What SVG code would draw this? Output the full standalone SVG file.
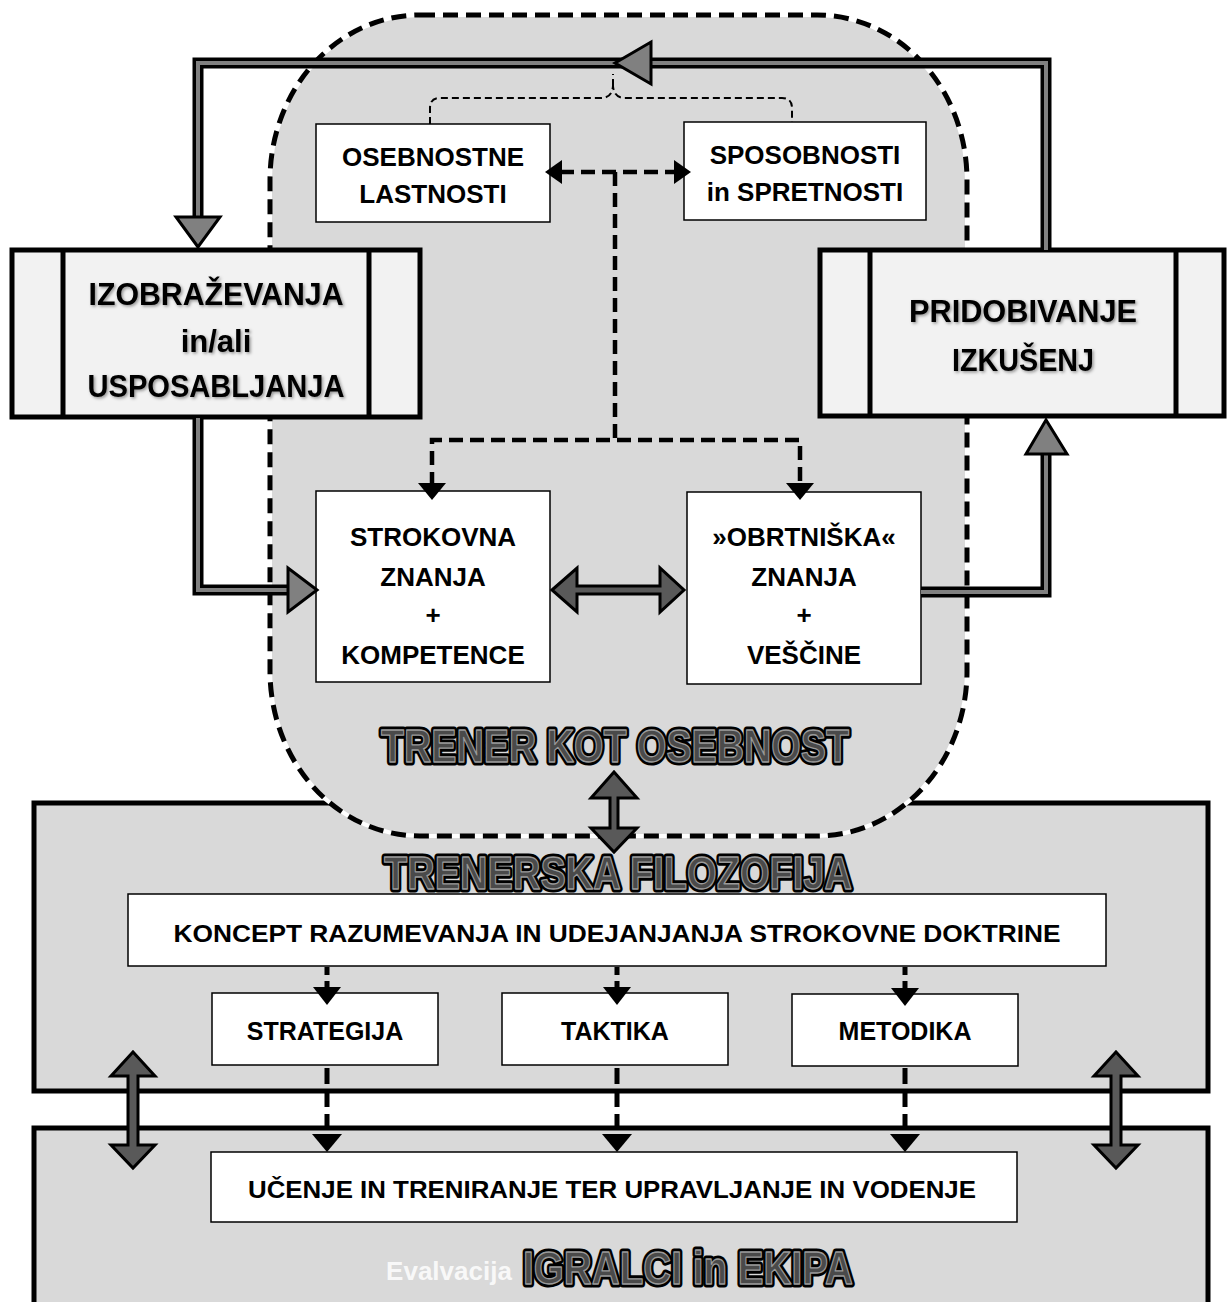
<svg xmlns="http://www.w3.org/2000/svg" width="1227" height="1302" viewBox="0 0 1227 1302">
<defs>
<style>
.t{font-family:"Liberation Sans",Arial,sans-serif;font-weight:bold;text-anchor:middle;fill:#000}
.wbox{fill:#fff;stroke:#000;stroke-width:1.5}
.sbox{fill:#f2f2f2;stroke:#000;stroke-width:5}
.panel{fill:#d9d9d9;stroke:#000;stroke-width:5}
.o1{font-family:"Liberation Sans",Arial,sans-serif;font-weight:bold;text-anchor:middle;fill:#000;stroke:#000;stroke-width:7;stroke-linejoin:round}
.o2{font-family:"Liberation Sans",Arial,sans-serif;font-weight:bold;text-anchor:middle;fill:#4a4a4a;stroke:#9a9a9a;stroke-width:1.3;stroke-linejoin:round}
.thko{fill:none;stroke:#000;stroke-width:11;stroke-linejoin:miter}
.thki{fill:none;stroke:#808080;stroke-width:4;stroke-linejoin:miter}
.ghead{fill:#808080;stroke:#000;stroke-width:3;stroke-linejoin:miter}
.dbl{fill:#595959;stroke:#000;stroke-width:3;stroke-linejoin:miter}
.dash{fill:none;stroke:#000;stroke-width:4.5;stroke-dasharray:14 7}
.dash2{fill:none;stroke:#000;stroke-width:5;stroke-dasharray:8 6}
.dash3{fill:none;stroke:#000;stroke-width:5;stroke-dasharray:16 7}
.thin{fill:none;stroke:#000;stroke-width:2;stroke-dasharray:7 4}
.bh{fill:#000}
</style>
<filter id="sh" x="-10%" y="-30%" width="120%" height="160%">
<feDropShadow dx="1.5" dy="1.5" stdDeviation="1.6" flood-color="#000" flood-opacity="0.4"/>
</filter>
</defs>
<rect width="1227" height="1302" fill="#fff"/>

<g id="panel-filozofija">
<rect class="panel" x="34" y="803" width="1174" height="288"/>
</g>
<g id="panel-igralci">
<rect class="panel" x="34" y="1128" width="1174" height="190"/>
</g>

<g id="trener-oval">
<path d="M420,15 H817 A150,165 0 0 1 967,180 V671 A150,165 0 0 1 817,836 H420 A150,165 0 0 1 270,671 V180 A150,165 0 0 1 420,15 Z" fill="#d9d9d9" stroke="#fff" stroke-width="4"/>
<path d="M420,15 H817 A150,165 0 0 1 967,180 V671 A150,165 0 0 1 817,836 H420 A150,165 0 0 1 270,671 V180 A150,165 0 0 1 420,15 Z" fill="none" stroke="#000" stroke-width="5" stroke-dasharray="15 8"/>
</g>

<g id="izobrazevanja">
<rect class="sbox" x="12" y="250" width="408" height="167"/>
<line x1="63" y1="250" x2="63" y2="417" stroke="#000" stroke-width="5"/>
<line x1="369" y1="250" x2="369" y2="417" stroke="#000" stroke-width="5"/>
<g filter="url(#sh)">
<text class="t" x="216" y="305" font-size="31" textLength="255" lengthAdjust="spacingAndGlyphs">IZOBRAŽEVANJA</text>
<text class="t" x="216" y="352" font-size="31">in/ali</text>
<text class="t" x="216" y="397" font-size="31" textLength="257" lengthAdjust="spacingAndGlyphs">USPOSABLJANJA</text>
</g>
</g>

<g id="pridobivanje">
<rect class="sbox" x="820" y="250" width="404" height="166"/>
<line x1="870" y1="250" x2="870" y2="416" stroke="#000" stroke-width="5"/>
<line x1="1176" y1="250" x2="1176" y2="416" stroke="#000" stroke-width="5"/>
<g filter="url(#sh)">
<text class="t" x="1023" y="322" font-size="31" textLength="228" lengthAdjust="spacingAndGlyphs">PRIDOBIVANJE</text>
<text class="t" x="1023" y="371" font-size="31" textLength="142" lengthAdjust="spacingAndGlyphs">IZKUŠENJ</text>
</g>
</g>

<g id="osebnostne">
<rect class="wbox" x="316" y="124" width="234" height="98"/>
<text class="t" x="433" y="166" font-size="26">OSEBNOSTNE</text>
<text class="t" x="433" y="203" font-size="26">LASTNOSTI</text>
</g>
<g id="sposobnosti">
<rect class="wbox" x="684" y="122" width="242" height="98"/>
<text class="t" x="805" y="164" font-size="26">SPOSOBNOSTI</text>
<text class="t" x="805" y="201" font-size="26">in SPRETNOSTI</text>
</g>
<g id="strokovna">
<rect class="wbox" x="316" y="491" width="234" height="191"/>
<text class="t" x="433" y="546" font-size="26">STROKOVNA</text>
<text class="t" x="433" y="586" font-size="26">ZNANJA</text>
<text class="t" x="433" y="624" font-size="26">+</text>
<text class="t" x="433" y="664" font-size="26">KOMPETENCE</text>
</g>
<g id="obrtniska">
<rect class="wbox" x="687" y="492" width="234" height="192"/>
<text class="t" x="804" y="546" font-size="26">»OBRTNIŠKA«</text>
<text class="t" x="804" y="586" font-size="26">ZNANJA</text>
<text class="t" x="804" y="624" font-size="26">+</text>
<text class="t" x="804" y="664" font-size="26">VEŠČINE</text>
</g>

<g id="label-trener">
<text class="o1" x="615" y="762" font-size="46" textLength="468" lengthAdjust="spacingAndGlyphs">TRENER KOT OSEBNOST</text>
<text class="o2" x="615" y="762" font-size="46" textLength="468" lengthAdjust="spacingAndGlyphs">TRENER KOT OSEBNOST</text>
</g>
<g id="label-filozofija">
<text class="o1" x="618" y="889" font-size="46" textLength="468" lengthAdjust="spacingAndGlyphs">TRENERSKA FILOZOFIJA</text>
<text class="o2" x="618" y="889" font-size="46" textLength="468" lengthAdjust="spacingAndGlyphs">TRENERSKA FILOZOFIJA</text>
</g>

<g id="koncept">
<rect class="wbox" x="128" y="894" width="978" height="72"/>
<text class="t" x="617" y="942" font-size="24" textLength="887" lengthAdjust="spacingAndGlyphs">KONCEPT RAZUMEVANJA IN UDEJANJANJA STROKOVNE DOKTRINE</text>
</g>
<g id="strategija">
<rect class="wbox" x="212" y="993" width="226" height="72"/>
<text class="t" x="325" y="1040" font-size="25">STRATEGIJA</text>
</g>
<g id="taktika">
<rect class="wbox" x="502" y="993" width="226" height="72"/>
<text class="t" x="615" y="1040" font-size="25">TAKTIKA</text>
</g>
<g id="metodika">
<rect class="wbox" x="792" y="994" width="226" height="72"/>
<text class="t" x="905" y="1040" font-size="25">METODIKA</text>
</g>
<g id="ucenje">
<rect class="wbox" x="211" y="1152" width="806" height="70"/>
<text class="t" x="612" y="1198" font-size="24" textLength="728" lengthAdjust="spacingAndGlyphs">UČENJE IN TRENIRANJE TER UPRAVLJANJE IN VODENJE</text>
</g>
<g id="label-igralci">
<text class="t" x="449" y="1280" font-size="26" fill="#fff" style="fill:#f8f8f8">Evalvacija</text>
<text class="o1" x="688" y="1284" font-size="46" textLength="330" lengthAdjust="spacingAndGlyphs">IGRALCI in EKIPA</text>
<text class="o2" x="688" y="1284" font-size="46" textLength="330" lengthAdjust="spacingAndGlyphs">IGRALCI in EKIPA</text>
</g>

<g id="connectors">
<!-- feedback loop -->
<path class="thko" d="M1046,250 V63 H198 V217"/>
<path class="thki" d="M1046,250 V63 H198 V217"/>
<polygon class="ghead" points="615,63 651,42 651,84"/>
<polygon class="ghead" points="198,247 176,217 220,217"/>
<!-- education to strokovna -->
<path class="thko" d="M198,418 V590 H290"/>
<path class="thki" d="M198,418 V590 H290"/>
<polygon class="ghead" points="317,590 288,568 288,612"/>
<!-- obrtniska to experience -->
<path class="thko" d="M921,592 H1046 V455"/>
<path class="thki" d="M921,592 H1046 V455"/>
<polygon class="ghead" points="1046,420 1026,454 1067,454"/>
<!-- double arrows -->
<polygon class="dbl" points="552,590 577,568 577,586 660,586 660,568 684,590 660,612 660,594 577,594 577,612"/>
<polygon class="dbl" points="614,772 637,798 618,798 618,828 637,828 614,852 591,828 610,828 610,798 591,798"/>
<polygon class="dbl" points="133,1052 155,1076 138,1076 138,1145 155,1145 133,1168 111,1145 128,1145 128,1076 111,1076"/>
<polygon class="dbl" points="1116,1052 1138,1076 1121,1076 1121,1145 1138,1145 1116,1168 1094,1145 1111,1145 1111,1076 1094,1076"/>
<!-- thin bracket -->
<path class="thin" d="M430,124 V108 Q430,98 440,98 H601 Q612,98 613,86 Q614,98 625,98 H782 Q792,98 792,108 V122"/>
<path class="thin" d="M613,86 V74"/>
<!-- dashed inner connectors -->
<path class="dash" d="M560,172 H676"/>
<polygon class="bh" points="545,172 562,160 562,184"/>
<polygon class="bh" points="691,172 674,160 674,184"/>
<path class="dash" d="M615,172 V440"/>
<path class="dash" d="M432,486 V440 H800 V486"/>
<polygon class="bh" points="432,500 418,483 446,483"/>
<polygon class="bh" points="800,500 786,483 814,483"/>
<!-- koncept to three -->
<path class="dash2" d="M327,967 V990"/>
<path class="dash2" d="M617,967 V990"/>
<path class="dash2" d="M905,967 V990"/>
<polygon class="bh" points="327,1005 313,987 341,987"/>
<polygon class="bh" points="617,1005 603,987 631,987"/>
<polygon class="bh" points="905,1006 891,988 919,988"/>
<!-- three to ucenje -->
<path class="dash3" d="M327,1068 V1137"/>
<path class="dash3" d="M617,1068 V1137"/>
<path class="dash3" d="M905,1068 V1137"/>
<polygon class="bh" points="327,1152 312,1134 342,1134"/>
<polygon class="bh" points="617,1152 602,1134 632,1134"/>
<polygon class="bh" points="905,1152 890,1134 920,1134"/>
</g>
</svg>
